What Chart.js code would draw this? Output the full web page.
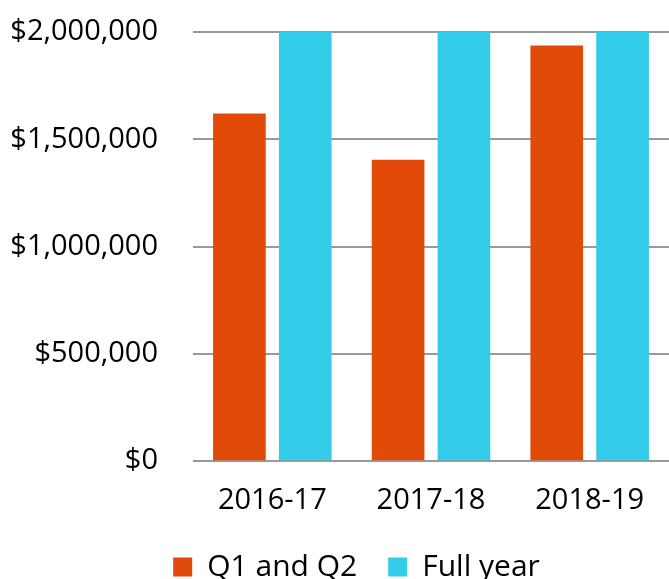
<!DOCTYPE html>
<html>
<head>
<meta charset="utf-8">
<script src="https://cdn.jsdelivr.net/npm/chart.js@4/dist/chart.umd.min.js"></script>
<style>
html,body{margin:0;padding:0;background:#fff;}
#wrap{width:669px;height:579px;position:relative;}
</style>
</head>
<body>
<div id="wrap"><canvas id="c" width="669" height="579"></canvas></div>
<script>
const categories = ["2016-17", "2017-18", "2018-19"];
const q1q2Values = [1620000, 1405000, 1937000];
const fullYearValues = [2000000, 2000000, 2000000];
const seriesNames = ["Q1 and Q2", "Full year"];
const yTicks = [0, 500000, 1000000, 1500000, 2000000];

const FONT = "'Open Sans', 'Noto Sans', sans-serif";

// nudge the legend row sideways after layout (still drawn by Chart.js)
const legendShift = {
  id: 'legendShift',
  afterLayout(chart) {
    const lg = chart.legend;
    if (lg) { const d = 16; lg.left += d; lg.right += d; }
  }
};

new Chart(document.getElementById('c'), {
  type: 'bar',
  data: {
    labels: categories,
    datasets: [
      {label: seriesNames[0], data: q1q2Values, backgroundColor: '#E24A07', categoryPercentage: 0.83, barPercentage: 0.8},
      {label: seriesNames[1], data: fullYearValues, backgroundColor: '#33CCE8', categoryPercentage: 0.83, barPercentage: 0.8}
    ]
  },
  plugins: [legendShift],
  options: {
    responsive: false,
    animation: false,
    devicePixelRatio: 1,
    layout: {padding: {top: 32, right: 0, left: 12, bottom: -13}},
    plugins: {
      tooltip: {enabled: false},
      legend: {
        position: 'bottom',
        labels: {
          font: {family: FONT, size: 30},
          color: '#000',
          boxWidth: 19,
          boxHeight: 19,
          padding: 31
        }
      }
    },
    scales: {
      x: {
        grid: {display: false},
        border: {display: false},
        ticks: {font: {family: FONT, size: 29}, color: '#000', padding: 14},
        afterFit: (axis) => { axis.height -= 11; }
      },
      y: {
        min: 0,
        max: 2000000,
        afterBuildTicks: (axis) => { axis.ticks = yTicks.map(v => ({value: v})); },
        grid: {color: '#999999', lineWidth: 2, drawTicks: false},
        border: {display: false},
        ticks: {
          font: {family: FONT, size: 29},
          color: '#000',
          padding: 35,
          callback: (v) => '$' + Number(v).toLocaleString('en-US')
        },
        afterFit: (axis) => { axis.width = 181; axis.paddingTop = 0; axis.paddingBottom = 0; }
      }
    }
  }
});
</script>
</body>
</html>
